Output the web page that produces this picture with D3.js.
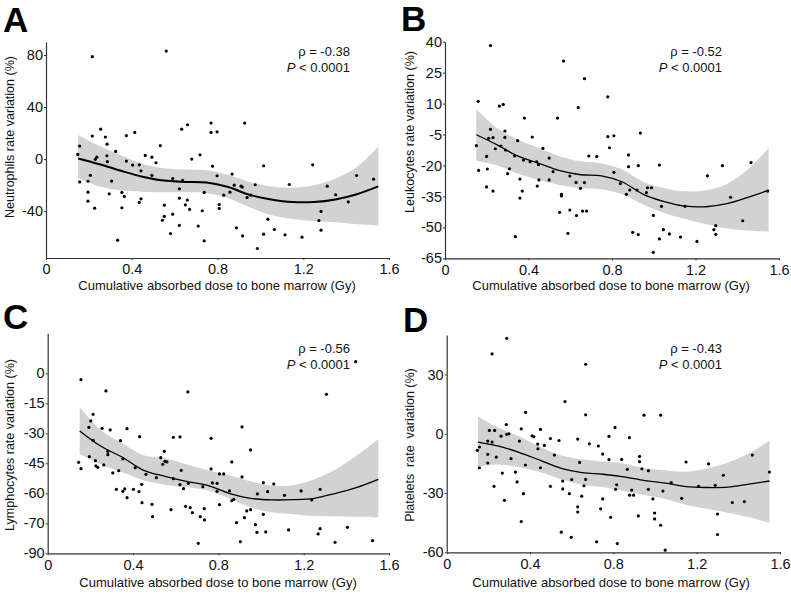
<!DOCTYPE html>
<html>
<head>
<meta charset="utf-8">
<script src="https://cdn.jsdelivr.net/npm/d3@7"></script>
<style>
  body { margin: 0; background: #fff; }
  svg text { font-family: "Liberation Sans", Arial, sans-serif; fill: #111; }
  .axis path, .axis line { stroke: #333; }
  .axis text { font-size: 14.5px; }
</style>
</head>
<body>
<div id="chart"></div>
<script>
"use strict";

// ---- data ----
const aDose = [0.148,0.157,0.157,0.216,0.216,0.255,0.277,0.285,0.284,0.286,0.230,0.237,0.207,0.196,0.196,0.196,0.227,0.295,0.306,0.325,0.334,0.354,0.365,0.354,0.375,0.375,0.404,0.414,0.435,0.435,0.443,0.443,0.463,0.494,0.494,0.513,0.533,0.543,0.552,0.552,0.561,0.581,0.591,0.591,0.622,0.622,0.622,0.633,0.637,0.650,0.659,0.660,0.670,0.680,0.710,0.718,0.770,0.770,0.798,0.777,0.798,0.868,0.878,0.858,0.829,0.910,0.916,0.927,0.938,0.955,0.976,0.738,0.729,0.738,0.808,0.808,0.888,0.917,0.986,1.015,1.015,1.035,1.065,1.115,1.135,1.194,1.244,1.283,1.273,1.283,1.312,1.351,1.410,1.449,1.528];
const aRate = [3.6,10,-17.5,78.7,17.7,23,17,11.5,2.6,-2,-0.2,1.5,-12.5,-17,-25.4,-32.3,-37.7,-26.7,-16.9,5.9,-62.3,-25.6,-28.7,-37.4,18,-1.5,-4.6,20.5,-4.4,-33.3,-9,-30.5,2.8,1.5,-12.5,-2.8,10.3,-47,-44,-35.4,83,-57.2,-14.9,-42.3,-22.8,-30,-51,23,-16.4,-35.1,-31.5,26.4,-38.7,0,-51.5,3.3,27.7,20.5,21,-5.4,-12.8,-11.5,-20,-25.4,-27.7,-20.8,-21.5,27.7,-29.5,-27.7,-19.7,-25.6,-39.7,-62.8,-34.9,-37.9,-52.8,-59,-68.7,-57.7,-5.1,-46.2,-54.1,-58.2,-19.5,-60,-4.4,-40.2,-47.2,-54.6,-20.8,-27.4,-32.8,-12.6,-15.4];

const bDose = [0.150,0.159,0.161,0.218,0.218,0.209,0.230,0.199,0.203,0.199,0.230,0.241,0.260,0.279,0.268,0.287,0.287,0.290,0.300,0.309,0.333,0.337,0.348,0.359,0.359,0.370,0.380,0.376,0.418,0.408,0.439,0.448,0.442,0.450,0.469,0.499,0.518,0.499,0.539,0.549,0.558,0.558,0.568,0.589,0.598,0.598,0.628,0.630,0.638,0.649,0.659,0.668,0.668,0.678,0.689,0.727,0.780,0.780,0.809,0.788,0.809,0.840,0.869,0.879,0.879,0.885,0.899,0.926,0.920,0.926,0.936,0.970,0.965,0.989,0.998,0.998,1.027,1.027,1.037,1.046,1.075,1.128,1.150,1.207,1.257,1.288,1.297,1.297,1.329,1.368,1.426,1.466,1.546];
const bRate = [-10.4,11.1,-22.4,38.1,-2.5,-6.8,-6.5,-15.6,-21.7,-30.4,-32.4,-11.9,8.8,9.6,-10.6,-3.3,-6.4,-12.5,-24,-21.6,-15.4,-54.5,-8,-26.6,-35.8,-32.4,3,-17.4,-6.2,-18.2,-18.2,-19.6,-30,-27,-11.7,-16.4,-23,-27,3,-42.7,-34,-34.8,30.6,-52.9,-25.1,-41.6,-28.2,-44.3,8,-31.1,-42.1,22.1,-28.3,-42.1,-15.4,-15.7,13.3,-6,-5.6,-11.4,-23.3,-28.8,-34,-14.9,-20.6,-31.9,-52.4,-53.5,-31.9,-20.1,-4.3,-30.8,-33.2,-30.8,-44.2,-62.1,-19.8,-55.6,-39.8,-51.1,-53.2,-54.7,-39.8,-56.8,-25,-51.1,-49.2,-53.4,-20.1,-35.4,-46.8,-18.6,-32.4];

const cDose = [0.145,0.156,0.156,0.193,0.195,0.202,0.213,0.213,0.224,0.226,0.235,0.255,0.263,0.273,0.282,0.282,0.293,0.305,0.322,0.333,0.341,0.352,0.352,0.361,0.372,0.372,0.402,0.410,0.428,0.431,0.441,0.442,0.461,0.489,0.491,0.509,0.530,0.539,0.547,0.550,0.559,0.578,0.589,0.589,0.620,0.626,0.620,0.637,0.646,0.657,0.659,0.668,0.678,0.706,0.715,0.734,0.735,0.727,0.766,0.766,0.772,0.794,0.794,0.805,0.805,0.825,0.852,0.863,0.863,0.872,0.885,0.903,0.911,0.911,0.922,0.933,0.951,0.951,0.974,0.981,0.983,1.011,1.011,1.022,1.031,1.060,1.110,1.129,1.188,1.238,1.268,1.277,1.277,1.307,1.347,1.405,1.444,1.523];
const cRate = [-44.5,-47.7,-3.2,-27,-41.7,-23.8,-20.5,-33.5,-43.7,-46.3,-47,-27.5,-45.8,-8.8,-39,-40.7,-28.3,-49.8,-58,-48.7,-33.7,-42.8,-59,-57.8,-27.7,-62.2,-58,-47.2,-59.2,-31.7,-55.5,-64.7,-50.5,-65.5,-71.7,-52.2,-42.2,-45.5,-39,-44,-44.3,-68.2,-32,-52.7,-31.8,-48.5,-55.7,-57.7,-66.5,-9.3,-55,-67.2,-69.7,-85,-71.7,-67.7,-73.3,-56.7,-32.5,-47.8,-54.8,-59,-55,-50.3,-65.7,-50.3,-58.8,-44.3,-63.7,-63,-74.7,-84.2,-26.8,-51.8,-72.2,-68.8,-38.3,-68.2,-75.7,-79.5,-60.3,-54.7,-70.5,-79.3,-59.2,-55.3,-61,-78.3,-58.8,-63.3,-80.3,-77.7,-58,-10.5,-84.5,-77,5.8,-83.7];

const dDose = [0.147,0.157,0.157,0.197,0.197,0.197,0.205,0.218,0.218,0.227,0.230,0.238,0.261,0.267,0.277,0.288,0.288,0.286,0.299,0.309,0.330,0.338,0.349,0.358,0.358,0.368,0.379,0.378,0.410,0.418,0.437,0.438,0.450,0.450,0.469,0.498,0.498,0.517,0.539,0.550,0.557,0.557,0.568,0.589,0.598,0.600,0.629,0.629,0.629,0.638,0.648,0.659,0.667,0.667,0.667,0.685,0.728,0.749,0.749,0.739,0.720,0.779,0.779,0.787,0.808,0.811,0.816,0.819,0.840,0.877,0.867,0.878,0.897,0.888,0.920,0.926,0.926,0.937,0.947,0.968,0.968,0.990,0.998,0.998,1.027,1.027,1.038,1.049,1.078,1.128,1.149,1.209,1.257,1.289,1.300,1.300,1.328,1.371,1.429,1.467,1.549];
const dRate = [-8.4,-6.7,-17.2,-3.7,-10.4,-14.8,1.7,40.4,-4.2,-26.6,1.7,-11.8,-1.2,-19.9,-33.7,48.3,-0.3,4.7,0,-12.6,-19.4,-24.4,-3.7,-44.4,2.5,-30.3,10.8,-15.8,-1,-1.5,-5.2,-7.6,2.2,-17.2,-5.9,-2.4,-26.6,-10.8,-3.4,-49.8,-23.9,-27.9,16.3,-30.3,-52.4,-23.2,-2.7,-37,-39.6,-14.5,-31.6,-26.3,35.2,9.6,-23.1,-5.1,-6.2,-10.3,-33,-38,-54.7,-1.3,-13.1,-42.3,3.2,-28.1,-25.8,-55.6,-13,-2,-18,-31.1,-31.1,-28.5,-41.6,-11.4,-14.1,-17.7,9.4,-18.7,-28.1,-33,-40.1,-43.1,9.4,-46.3,-29,-58.9,-24.7,-32.7,-14.3,-26.6,-15.2,-26.1,-40.6,-51,-21,-34.8,-34.3,-10.8,-19.4];

// smoother and its confidence band, read at these doses
const fitDose = [0.15,0.25,0.35,0.45,0.55,0.65,0.75,0.85,0.95,1.05,1.15,1.25,1.35,1.45,1.55];
const aFit  = [0.5,-4,-9,-13.5,-16.5,-17.5,-18,-21.5,-27.5,-31,-33,-33,-31,-27,-21];
const aLow  = [-14.5,-21,-24,-25,-25.5,-25.5,-26,-30,-37,-43,-46,-47.5,-48.5,-50,-51];
const aHigh = [18.5,10,3,-3.5,-7,-8,-8.5,-12,-17.5,-21,-22,-20,-15,-6,9.5];
const bFit  = [-5.1,-10,-15.5,-19,-22.5,-24.5,-25,-28,-34,-37.5,-39.7,-40,-38.5,-35.5,-32];
const bLow  = [-17.7,-20,-24,-27,-29.5,-31,-31.5,-34,-39,-43,-46,-48.5,-50.5,-51.5,-52];
const bHigh = [7.2,-2,-7.5,-11.5,-15.5,-18,-19,-22,-28,-31,-32.5,-32,-29,-22,-11.7];
const cFit  = [-28.8,-36.5,-42,-48.5,-51.5,-54,-56,-60,-62.5,-63.3,-63.2,-62.5,-60,-57,-53];
const cLow  = [-40.3,-45.5,-49.5,-53.5,-55.7,-57,-58.5,-62.5,-67,-69.5,-70.5,-71.3,-71.5,-71.7,-72];
const cHigh = [-17,-28.5,-35,-41,-42.5,-45.5,-48.5,-51,-54,-56,-56,-53,-48,-41,-33];
const dFit  = [-4.2,-6.3,-9.5,-13.5,-17.5,-19.7,-20.5,-21.8,-23.7,-25,-26.8,-27.2,-27,-25.5,-23.9];
const dLow  = [-16.5,-15.5,-17,-19.5,-23,-25.8,-27,-29,-31,-33,-36,-38,-40,-42.3,-45];
const dHigh = [8.8,3,-1.5,-6.7,-11,-13,-14,-15,-17.5,-18.5,-19.2,-17.5,-14.5,-10,-3.4];

const xTicks = [0, 0.4, 0.8, 1.2, 1.6];
const xTickLabels = ["0", "0.4", "0.8", "1.2", "1.6"];
const aYTicks = [80, 40, 0, -40];
const bYTicks = [40, 25, 10, -5, -20, -35, -50, -65];
const cYTicks = [0, -15, -30, -45, -60, -75, -90];
const cYTickLabels = ["0", "-15", "-30", "-45", "-60", "-70", "-90"];
const dYTicks = [30, 0, -30, -60];

const xTitle = "Cumulative absorbed dose to bone marrow (Gy)";

// ---- panel layout ----
const panels = [
  { letter: "A", lx: 3, ly: 32, dose: aDose, rate: aRate, fit: aFit, low: aLow, high: aHigh,
    left: 46, right: 389, top: 42, bottom: 258, yDomain: [-76, 90], yTicks: aYTicks, yLabels: null,
    ytitle: "Neutrophils rate variation (%)", ytx: 10, yty: 137, xtx: 217, xty: 290,
    rho: "ρ = -0.38", ax: 350, ay: 56, lineW: 2 },
  { letter: "B", lx: 401, ly: 31, dose: bDose, rate: bRate, fit: bFit, low: bLow, high: bHigh,
    left: 445, right: 779, top: 41.7, bottom: 258.3, yDomain: [-65, 40], yTicks: bYTicks, yLabels: null,
    ytitle: "Leukocytes rate variation (%)", ytx: 410, yty: 132, xtx: 611, xty: 290,
    rho: "ρ = -0.52", ax: 722, ay: 56, lineW: 1.3 },
  { letter: "C", lx: 3, ly: 329, dose: cDose, rate: cRate, fit: cFit, low: cLow, high: cHigh,
    left: 47.7, right: 389, top: 333.3, bottom: 553.3, yDomain: [-90, 20], yTicks: cYTicks, yLabels: cYTickLabels,
    ytitle: "Lymphocytes rate variation (%)", ytx: 10, yty: 445, xtx: 218, xty: 587,
    rho: "ρ = -0.56", ax: 350, ay: 353, lineW: 1.3 },
  { letter: "D", lx: 403, ly: 332, dose: dDose, rate: dRate, fit: dFit, low: dLow, high: dHigh,
    left: 446.7, right: 780, top: 335, bottom: 552.3, yDomain: [-60, 50], yTicks: dYTicks, yLabels: null,
    ytitle: "Platelets  rate  variation (%)", ytx: 410, yty: 445, xtx: 611, xty: 587,
    rho: "ρ = -0.43", ax: 722, ay: 353, lineW: 1.3 }
];

const svg = d3.select("#chart").append("svg")
  .attr("width", 791).attr("height", 594);

panels.forEach(function (p) {
  const x = d3.scaleLinear().domain([0, 1.6]).range([p.left, p.right]);
  const y = d3.scaleLinear().domain(p.yDomain).range([p.bottom, p.top]);
  const g = svg.append("g");

  // confidence band
  const band = d3.area()
    .x((d, i) => x(fitDose[i]))
    .y0((d, i) => y(p.low[i]))
    .y1((d, i) => y(p.high[i]))
    .curve(d3.curveCatmullRom);
  g.append("path").datum(fitDose).attr("d", band).attr("fill", "#d2d2d2");

  // points
  g.selectAll("circle").data(p.dose).enter().append("circle")
    .attr("cx", (d) => x(d))
    .attr("cy", (d, i) => y(p.rate[i]))
    .attr("r", 1.6)
    .attr("fill", "#000");

  // smoother
  const line = d3.line()
    .x((d, i) => x(fitDose[i]))
    .y((d, i) => y(p.fit[i]))
    .curve(d3.curveCatmullRom);
  g.append("path").datum(fitDose).attr("d", line)
    .attr("fill", "none").attr("stroke", "#000").attr("stroke-width", p.lineW);

  // axes
  const xAxis = d3.axisBottom(x).tickValues(xTicks)
    .tickFormat((d, i) => xTickLabels[i])
    .tickSize(2).tickSizeOuter(0).tickPadding(4);
  g.append("g").attr("class", "axis")
    .attr("transform", "translate(0," + p.bottom + ")")
    .call(xAxis);

  const yAxis = d3.axisLeft(y).tickValues(p.yTicks)
    .tickFormat((d, i) => (p.yLabels ? p.yLabels[i] : String(d)))
    .tickSize(2).tickSizeOuter(0).tickPadding(1);
  g.append("g").attr("class", "axis")
    .attr("transform", "translate(" + p.left + ",0)")
    .call(yAxis);
  g.selectAll(".axis .domain").attr("stroke-width", 1.2);

  // titles
  g.append("text")
    .attr("transform", "translate(" + p.ytx + "," + p.yty + ") rotate(-90)")
    .attr("text-anchor", "middle").attr("dominant-baseline", "central")
    .style("font-size", "12.5px").style("white-space", "pre")
    .text(p.ytitle);
  g.append("text")
    .attr("x", p.xtx).attr("y", p.xty)
    .attr("text-anchor", "middle").style("font-size", "13px")
    .text(xTitle);

  // stats
  g.append("text").attr("x", p.ax).attr("y", p.ay)
    .attr("text-anchor", "end").style("font-size", "13px").text(p.rho);
  const pt = g.append("text").attr("x", p.ax).attr("y", p.ay + 16)
    .attr("text-anchor", "end").style("font-size", "13px");
  pt.append("tspan").style("font-style", "italic").text("P");
  pt.append("tspan").text(" < 0.0001");

  // panel letter
  g.append("text").attr("x", p.lx).attr("y", p.ly)
    .style("font-size", "35px").style("font-weight", "bold").style("fill", "#000")
    .text(p.letter);
});
</script>
</body>
</html>
